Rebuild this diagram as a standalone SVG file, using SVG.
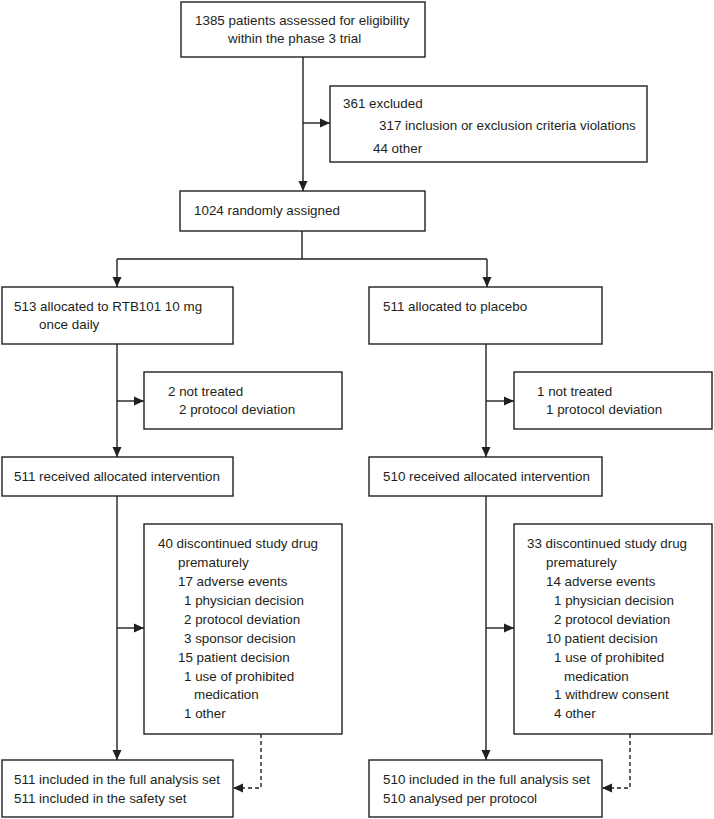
<svg xmlns="http://www.w3.org/2000/svg" width="714" height="819" viewBox="0 0 714 819">
<style>
.box{fill:#fff;stroke:#231f20;stroke-width:1.4}
.ln{fill:none;stroke:#231f20;stroke-width:1.4}
.dash{stroke-dasharray:4 3}
text{font-family:"Liberation Sans",Arial,sans-serif;font-size:13.4px;fill:#231f20}
</style>
<defs>
<marker id="ah" markerUnits="userSpaceOnUse" markerWidth="10" markerHeight="10" refX="10" refY="5" orient="auto">
<path d="M0,0.5 L10,5 L0,9.5 z" fill="#231f20"/>
</marker>
</defs>
<rect width="714" height="819" fill="#fff"/>
<g id="connectors">
<path class="ln" d="M303,57 V191" marker-end="url(#ah)"/>
<path class="ln" d="M303,123 H330" marker-end="url(#ah)"/>
<path class="ln" d="M302,231 V259 M117,259 H487"/>
<path class="ln" d="M117,259 V287" marker-end="url(#ah)"/>
<path class="ln" d="M487,259 V287" marker-end="url(#ah)"/>
<path class="ln" d="M117,344 V457" marker-end="url(#ah)"/>
<path class="ln" d="M117,401 H144" marker-end="url(#ah)"/>
<path class="ln" d="M486,344 V457" marker-end="url(#ah)"/>
<path class="ln" d="M486,401 H514" marker-end="url(#ah)"/>
<path class="ln" d="M117,496 V760" marker-end="url(#ah)"/>
<path class="ln" d="M117,628 H144" marker-end="url(#ah)"/>
<path class="ln" d="M486,496 V760" marker-end="url(#ah)"/>
<path class="ln" d="M486,628 H514" marker-end="url(#ah)"/>
<path class="ln dash" d="M261,734 V788 H233" marker-end="url(#ah)"/>
<path class="ln dash" d="M630,734 V788 H602" marker-end="url(#ah)"/>
</g>
<g id="assessed">
<rect class="box" x="181" y="2" width="244" height="55"/>
<text x="195" y="25">1385 patients assessed for eligibility</text>
<text x="228" y="43">within the phase 3 trial</text>
</g>
<g id="excluded">
<rect class="box" x="330" y="86" width="317" height="76"/>
<text x="343" y="108">361 excluded</text>
<text x="379" y="130">317 inclusion or exclusion criteria violations</text>
<text x="373" y="153">44 other</text>
</g>
<g id="randomised">
<rect class="box" x="180" y="191" width="245" height="40"/>
<text x="194" y="215">1024 randomly assigned</text>
</g>
<g id="alloc-rtb">
<rect class="box" x="2" y="287" width="231" height="57"/>
<text x="14" y="311">513 allocated to RTB101 10 mg</text>
<text x="39" y="329">once daily</text>
</g>
<g id="alloc-placebo">
<rect class="box" x="369" y="287" width="233" height="57"/>
<text x="383" y="311">511 allocated to placebo</text>
</g>
<g id="nottreated-rtb">
<rect class="box" x="144" y="372" width="198" height="57"/>
<text x="168" y="396">2 not treated</text>
<text x="179" y="414">2 protocol deviation</text>
</g>
<g id="nottreated-placebo">
<rect class="box" x="514" y="372" width="198" height="57"/>
<text x="537" y="396">1 not treated</text>
<text x="546" y="414">1 protocol deviation</text>
</g>
<g id="received-rtb">
<rect class="box" x="2" y="457" width="231" height="39"/>
<text x="14" y="481">511 received allocated intervention</text>
</g>
<g id="received-placebo">
<rect class="box" x="369" y="457" width="233" height="39"/>
<text x="383" y="481">510 received allocated intervention</text>
</g>
<g id="discontinued-rtb">
<rect class="box" x="144" y="524" width="198" height="210"/>
<text x="158" y="548">40 discontinued study drug</text>
<text x="178" y="567">prematurely</text>
<text x="178" y="586">17 adverse events</text>
<text x="184" y="605">1 physician decision</text>
<text x="184" y="624">2 protocol deviation</text>
<text x="184" y="643">3 sponsor decision</text>
<text x="178" y="662">15 patient decision</text>
<text x="184" y="681">1 use of prohibited</text>
<text x="194" y="699">medication</text>
<text x="184" y="718">1 other</text>
</g>
<g id="discontinued-placebo">
<rect class="box" x="514" y="524" width="198" height="210"/>
<text x="527" y="548">33 discontinued study drug</text>
<text x="546" y="567">prematurely</text>
<text x="546" y="586">14 adverse events</text>
<text x="554" y="605">1 physician decision</text>
<text x="554" y="624">2 protocol deviation</text>
<text x="546" y="643">10 patient decision</text>
<text x="554" y="662">1 use of prohibited</text>
<text x="564" y="681">medication</text>
<text x="554" y="699">1 withdrew consent</text>
<text x="554" y="718">4 other</text>
</g>
<g id="analysed-rtb">
<rect class="box" x="2" y="760" width="231" height="57"/>
<text x="14" y="784">511 included in the full analysis set</text>
<text x="14" y="803">511 included in the safety set</text>
</g>
<g id="analysed-placebo">
<rect class="box" x="369" y="760" width="233" height="57"/>
<text x="383" y="784">510 included in the full analysis set</text>
<text x="383" y="803">510 analysed per protocol</text>
</g>
</svg>
